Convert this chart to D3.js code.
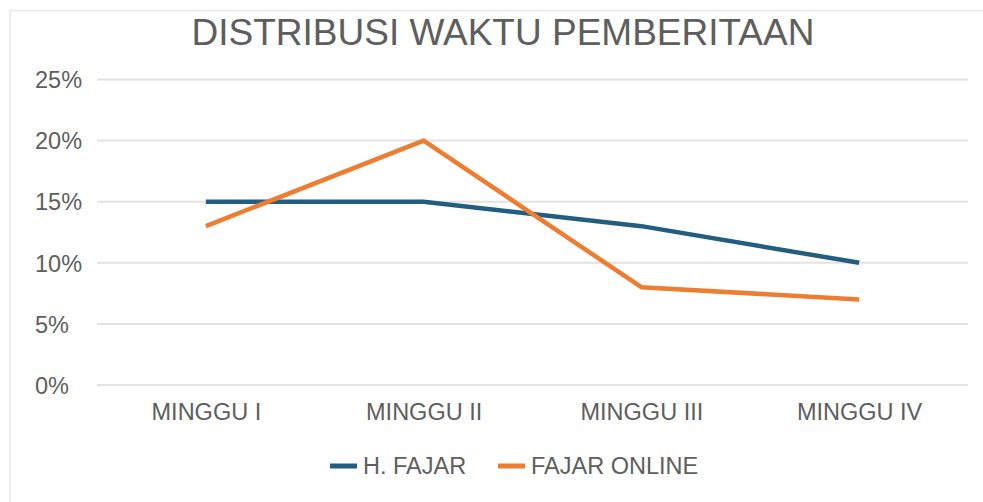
<!DOCTYPE html>
<html>
<head>
<meta charset="utf-8">
<script src="https://cdn.jsdelivr.net/npm/d3@7"></script>
<style>
  html, body { margin: 0; padding: 0; background: #ffffff; }
  svg { display: block; }
</style>
</head>
<body>
<svg id="chart" width="983" height="502"></svg>
<script>
const title = "DISTRIBUSI WAKTU PEMBERITAAN";
const categories = ["MINGGU I", "MINGGU II", "MINGGU III", "MINGGU IV"];
const seriesNames = ["H. FAJAR", "FAJAR ONLINE"];
const hFajar = [0.15, 0.15, 0.13, 0.10];
const fajarOnline = [0.13, 0.20, 0.08, 0.07];
const yTicks = [0, 0.05, 0.10, 0.15, 0.20, 0.25];
const colors = ["#235E80", "#ED7D31"];

const series = [
  { name: seriesNames[0], values: hFajar, color: colors[0] },
  { name: seriesNames[1], values: fajarOnline, color: colors[1] }
];

const svg = d3.select("#chart");
const font = "'Liberation Sans', Arial, sans-serif";
const textColor = "#5e5e5e";

// outer frame (only top/left visible)
svg.append("rect")
  .attr("x", 10).attr("y", 10.5)
  .attr("width", 1000).attr("height", 600)
  .attr("fill", "#ffffff")
  .attr("stroke", "#e8e8e8")
  .attr("stroke-width", 1.5);

const x = d3.scalePoint().domain(categories).range([97, 968]).padding(0.5);
const y = d3.scaleLinear().domain([0, 0.25]).range([385, 79.5]);

// gridlines
svg.append("g")
  .selectAll("line")
  .data(yTicks)
  .join("line")
  .attr("x1", 97).attr("x2", 968)
  .attr("y1", d => y(d)).attr("y2", d => y(d))
  .attr("stroke", "#e3e3e3")
  .attr("stroke-width", 2);

// y axis labels
const yAxis = d3.axisLeft(y).tickValues(yTicks).tickFormat(d3.format(".0%")).tickSize(0);
const gy = svg.append("g").attr("transform", "translate(35,0)").call(yAxis);
gy.select(".domain").remove();
gy.selectAll("text")
  .attr("x", 0)
  .attr("text-anchor", "start")
  .attr("dy", "0.35em")
  .attr("fill", textColor)
  .style("font-family", font)
  .style("font-size", "23.5px");

// x axis labels
const xAxis = d3.axisBottom(x).tickSize(0);
const gx = svg.append("g").attr("transform", "translate(0,385)").call(xAxis);
gx.select(".domain").remove();
gx.selectAll("text")
  .attr("y", 27)
  .attr("dy", "0.35em")
  .attr("fill", textColor)
  .style("font-family", font)
  .style("font-size", "23.5px");

// lines
const line = d3.line()
  .x((d, i) => x(categories[i]))
  .y(d => y(d));

svg.append("g")
  .selectAll("path")
  .data(series)
  .join("path")
  .attr("d", d => line(d.values))
  .attr("fill", "none")
  .attr("stroke", d => d.color)
  .attr("stroke-width", 4.5)
  .attr("stroke-linejoin", "round")
  .attr("stroke-linecap", "butt");

// title
svg.append("text")
  .attr("x", 503).attr("y", 45)
  .attr("text-anchor", "middle")
  .attr("fill", textColor)
  .style("font-family", font)
  .style("font-size", "37px")
  .text(title);

// legend
const legendItems = [
  { name: seriesNames[0], color: colors[0], x0: 330 },
  { name: seriesNames[1], color: colors[1], x0: 498 }
];
const lg = svg.append("g");
legendItems.forEach(it => {
  lg.append("line")
    .attr("x1", it.x0).attr("x2", it.x0 + 27)
    .attr("y1", 466).attr("y2", 466)
    .attr("stroke", it.color)
    .attr("stroke-width", 5);
  lg.append("text")
    .attr("x", it.x0 + 33).attr("y", 466)
    .attr("dy", "0.35em")
    .attr("fill", textColor)
    .style("font-family", font)
    .style("font-size", "23.5px")
    .text(it.name);
});
</script>
</body>
</html>
